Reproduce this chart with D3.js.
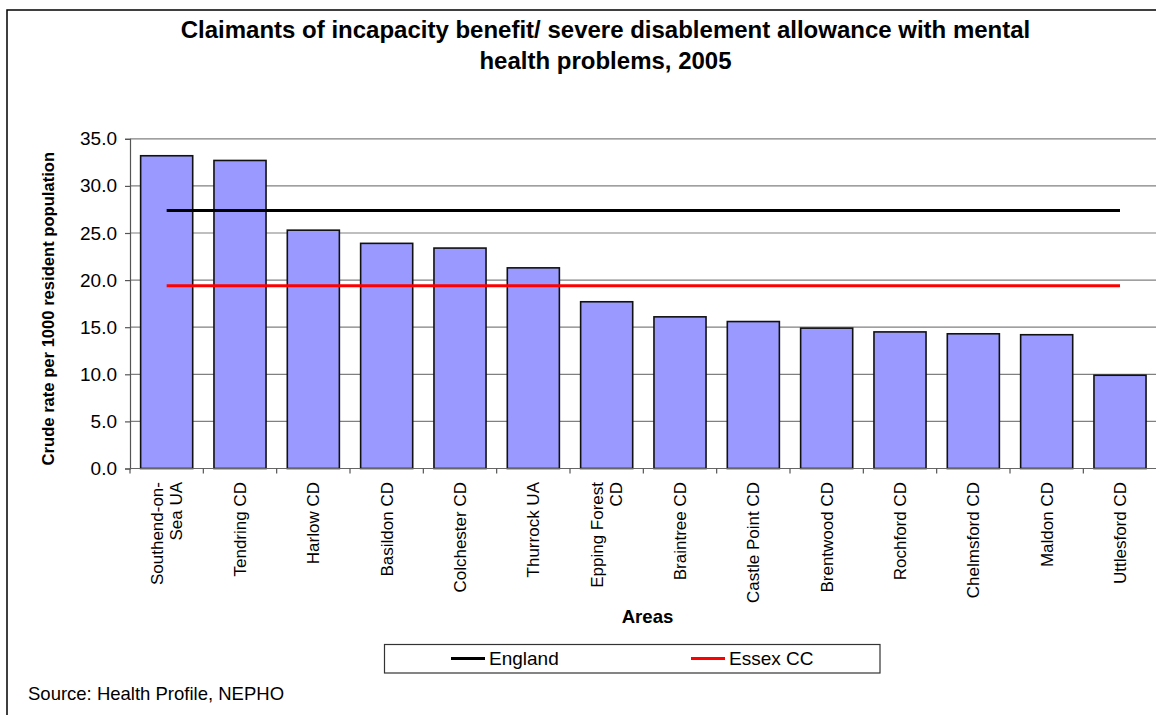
<!DOCTYPE html>
<html>
<head>
<meta charset="utf-8">
<script src="https://cdn.jsdelivr.net/npm/d3@7"></script>
<style>
  html, body { margin: 0; padding: 0; background: #fff; overflow: hidden; }
  svg { display: block; font-family: "Liberation Sans", Arial, sans-serif; }
</style>
</head>
<body>
<svg id="chart" width="1156" height="715"></svg>
<script>
const categories = [
  ["Southend-on-", "Sea UA"], ["Tendring CD"], ["Harlow CD"], ["Basildon CD"],
  ["Colchester CD"], ["Thurrock UA"], ["Epping Forest", "CD"], ["Braintree CD"],
  ["Castle Point CD"], ["Brentwood CD"], ["Rochford CD"], ["Chelmsford CD"],
  ["Maldon CD"], ["Uttlesford CD"]
];
const rates = [33.2, 32.7, 25.3, 23.9, 23.4, 21.3, 17.7, 16.1, 15.6, 14.9, 14.5, 14.3, 14.2, 9.9];
const englandValue = 27.4;
const essexValue = 19.4;
const yTicks = [0, 5, 10, 15, 20, 25, 30, 35];
const titleLines = ["Claimants of incapacity benefit/ severe disablement allowance with mental", "health problems, 2005"];
const legendItems = [["England", "#000000"], ["Essex CC", "#ff0000"]];

(function () {
const svg = d3.select("#chart");
const keys = categories.map(c => c.join(" "));

const pLeft = 130, pRight = 1156.67, pTop = 138.8, pBottom = 468.5;
const x = d3.scaleBand().domain(keys).range([pLeft, pRight]).paddingInner(0.29).paddingOuter(0.145);
const y = d3.scaleLinear().domain([0, 35]).range([pBottom, pTop]);

// frame
svg.append("rect").attr("x", 7).attr("y", 10).attr("width", 1200).attr("height", 800)
  .attr("fill", "#fff").attr("stroke", "#000").attr("stroke-width", 1.5);

// title
svg.append("g").selectAll("text").data(titleLines).join("text")
  .attr("x", 605.5).attr("y", (d, i) => 38.3 + i * 31)
  .attr("text-anchor", "middle").attr("font-weight", "bold").attr("font-size", 24)
  .text(d => d);

// gridlines
svg.append("g").selectAll("line").data(yTicks.filter(t => t > 0)).join("line")
  .attr("x1", pLeft).attr("x2", 1160).attr("y1", d => y(d)).attr("y2", d => y(d))
  .attr("stroke", "#808080").attr("stroke-width", 1.2);

// y axis
const yAxis = d3.axisLeft(y).tickValues(yTicks).tickFormat(d3.format(".1f")).tickSize(5).tickPadding(8);
const gy = svg.append("g").attr("transform", `translate(${pLeft},0)`).call(yAxis);
gy.select(".domain").attr("stroke", "#555").attr("stroke-width", 1.2);
gy.selectAll(".tick line").attr("stroke", "#555").attr("stroke-width", 1.2);
gy.selectAll(".tick text").attr("font-size", 19).attr("fill", "#000")
  .attr("font-family", "'Liberation Sans', Arial, sans-serif");

// bars
svg.append("g").selectAll("rect").data(rates).join("rect")
  .attr("x", (d, i) => x(keys[i])).attr("width", x.bandwidth())
  .attr("y", d => y(d)).attr("height", d => y(0) - y(d))
  .attr("fill", "#9999ff").attr("stroke", "#111").attr("stroke-width", 1.6);

// x axis line & ticks
svg.append("line").attr("x1", pLeft).attr("x2", 1160).attr("y1", y(0)).attr("y2", y(0))
  .attr("stroke", "#666").attr("stroke-width", 1.2);
const step = x.step();
svg.append("g").selectAll("line").data(d3.range(keys.length + 1)).join("line")
  .attr("x1", i => pLeft + i * step).attr("x2", i => pLeft + i * step)
  .attr("y1", y(0)).attr("y2", y(0) + 5)
  .attr("stroke", "#555").attr("stroke-width", 1.2);

// x labels
const lblG = svg.append("g");
categories.forEach((lines, i) => {
  const cx = x(keys[i]) + x.bandwidth() / 2;
  const n = lines.length;
  lines.forEach((ln, j) => {
    const off = (j - (n - 1) / 2) * 19;
    lblG.append("text")
      .attr("transform", `translate(${cx + off + 6},482) rotate(-90)`)
      .attr("text-anchor", "end").attr("font-size", 17).text(ln);
  });
});

// reference lines
const lx0 = x(keys[0]) + x.bandwidth() / 2, lx1 = x(keys[keys.length - 1]) + x.bandwidth() / 2;
svg.append("line").attr("x1", lx0).attr("x2", lx1).attr("y1", y(englandValue)).attr("y2", y(englandValue))
  .attr("stroke", "#000").attr("stroke-width", 3);
svg.append("line").attr("x1", lx0).attr("x2", lx1).attr("y1", y(essexValue)).attr("y2", y(essexValue))
  .attr("stroke", "#ff0000").attr("stroke-width", 3);

// axis titles
svg.append("text").attr("transform", `translate(54,${(pTop + pBottom) / 2 + 5}) rotate(-90)`)
  .attr("text-anchor", "middle").attr("font-weight", "bold").attr("font-size", 16.6)
  .text("Crude rate per 1000 resident population");
svg.append("text").attr("x", 647.5).attr("y", 623).attr("text-anchor", "middle")
  .attr("font-weight", "bold").attr("font-size", 18.6).text("Areas");

// legend
svg.append("rect").attr("x", 384.5).attr("y", 644.5).attr("width", 495.5).attr("height", 28.5)
  .attr("fill", "#fff").attr("stroke", "#333").attr("stroke-width", 1.2);
const legX = [451, 691];
const lg = svg.append("g").selectAll("g").data(legendItems).join("g")
  .attr("transform", (d, i) => `translate(${legX[i]},658.5)`);
lg.append("line").attr("x1", 0).attr("x2", 34).attr("y1", 0).attr("y2", 0)
  .attr("stroke", d => d[1]).attr("stroke-width", 3);
lg.append("text").attr("x", 38).attr("y", 6.8).attr("font-size", 19).text(d => d[0]);

// source
svg.append("text").attr("x", 28).attr("y", 700).attr("font-size", 18.5).text("Source: Health Profile, NEPHO");
})();
</script>
</body>
</html>
